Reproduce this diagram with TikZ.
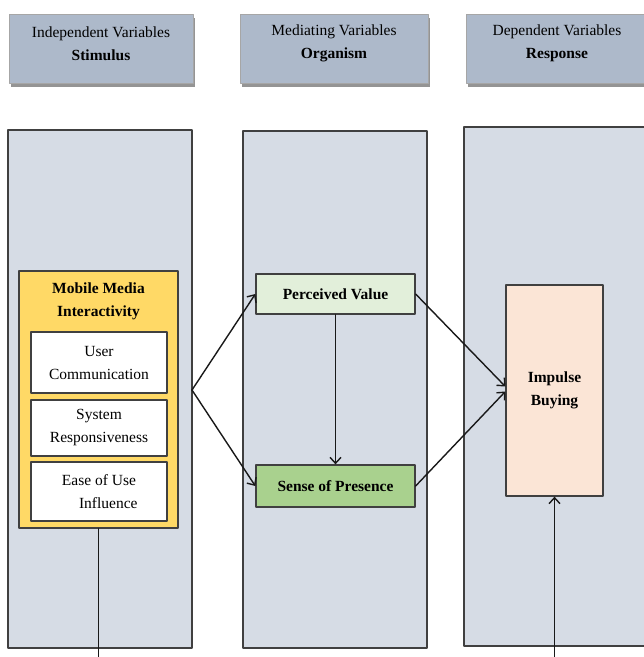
\documentclass[tikz,border=0pt]{standalone}
\usepackage{fontspec}
\setmainfont{Liberation Serif}
\usetikzlibrary{arrows.meta,shadows}
\definecolor{hdrfill}{HTML}{ADB9CA}
\definecolor{panfill}{HTML}{D6DCE5}
\definecolor{mobfill}{HTML}{FFD966}
\definecolor{pvfill}{HTML}{E2EFDA}
\definecolor{spfill}{HTML}{A9D18E}
\definecolor{ibfill}{HTML}{FBE5D6}
\definecolor{edge}{HTML}{404040}

\begin{document}
\begin{tikzpicture}[x=1pt,y=-1pt,line cap=round,line join=round,
  every node/.style={font=\fontsize{15.5}{23}\selectfont,align=center,inner sep=0pt},
  hdr/.style={fill=hdrfill,draw=gray!70,line width=.6pt,minimum height=69pt,
    drop shadow={shadow xshift=2pt,shadow yshift=-3.5pt,fill=black!70,opacity=.6}},
  panel/.style={fill=panfill,draw=edge,line width=1.5pt},
  box/.style={draw=edge,line width=1.3pt},
  conn/.style={draw=black!90,line width=1.4pt,-{Straight Barb[length=6pt,width=11pt]}}]
  \useasboundingbox (0,0) rectangle (644,657);
  % header row
  \node[hdr,minimum width=184pt] (hdrS) at (101,48.5) {};
  \node[hdr,minimum width=188pt] (hdrO) at (334,48.5) {};
  \node[hdr,minimum width=184pt] (hdrR) at (558,48.5) {};
  \node (hdrStxt) at (101,43.5) {Independent Variables\\\textbf{Stimulus}};
  \node (hdrOtxt) at (334,43.5) {Mediating Variables\\\textbf{Organism}};
  \node (hdrRtxt) at (557,43.5) {Dependent Variables\\\textbf{Response}};
  % column panels
  \node[panel,minimum width=184pt,minimum height=518pt] (panS) at (100,389) {};
  \node[panel,minimum width=184pt,minimum height=517pt] (panO) at (335,389.5) {};
  \node[panel,minimum width=186pt,minimum height=519pt] (panR) at (557,386.5) {};
  % stimulus
  \node[box,fill=mobfill,minimum width=159pt,minimum height=257pt] (mob) at (98.5,399.5) {};
  \node (mobtxt) at (98.5,301.5) {\textbf{Mobile Media}\\\textbf{Interactivity}};
  \node[box,fill=white,minimum width=136pt,minimum height=61pt] (uc) at (99,362.5)
    {User\\Communication};
  \node[box,fill=white,minimum width=136pt,minimum height=56pt] (sr) at (99,428)
    {System\\Responsiveness};
  \node[box,fill=white,minimum width=136pt,minimum height=59pt] (eu) at (99,491.5)
    {Ease of Use\\\hspace*{1.2em}Influence};
  % organism
  \node[box,fill=pvfill,minimum width=159pt,minimum height=40pt] (pv) at (335.5,294)
    {\textbf{Perceived Value}};
  \node[box,fill=spfill,minimum width=159pt,minimum height=42pt] (sp) at (335.5,486)
    {\textbf{Sense of Presence}};
  % response
  \node[box,fill=ibfill,minimum width=97pt,minimum height=211pt] (ib) at (554.5,390.5)
    {\textbf{Impulse}\\\textbf{Buying}};
  \coordinate (fk) at (192,390);
  \coordinate (dnS) at (98.5,662);
  \coordinate (dnR) at (554.5,662);
  \draw[conn] (fk) -- (pv.west);
  \draw[conn] (fk) -- (sp.west);
  \draw[conn] (pv.south) -- (sp.north);
  \draw[conn] (pv.east) -- ([yshift=4pt]ib.west);
  \draw[conn] (sp.east) -- ([yshift=-1pt]ib.west);
  \draw[draw=black!90,line width=1.4pt] (mob.south) -- (dnS);
  \draw[conn] (dnR) -- (ib.south);
\end{tikzpicture}
\end{document}
